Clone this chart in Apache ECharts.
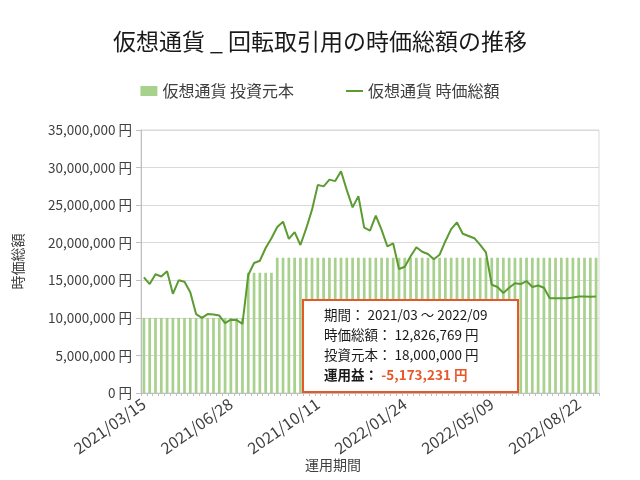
<!DOCTYPE html>
<html>
<head>
<meta charset="utf-8">
<script src="https://cdn.jsdelivr.net/npm/echarts@6/dist/echarts.min.js"></script>
<style>
html,body{margin:0;padding:0;background:#fff;}
#c{width:640px;height:480px;}
</style>
</head>
<body>
<div id="c"></div>
<script>
// Weekly categories
const categories = [
 '2021/03/15','2021/03/22','2021/03/29','2021/04/05','2021/04/12','2021/04/19','2021/04/26','2021/05/03','2021/05/10','2021/05/17',
 '2021/05/24','2021/05/31','2021/06/07','2021/06/14','2021/06/21','2021/06/28','2021/07/05','2021/07/12','2021/07/19','2021/07/26',
 '2021/08/02','2021/08/09','2021/08/16','2021/08/23','2021/08/30','2021/09/06','2021/09/13','2021/09/20','2021/09/27','2021/10/04',
 '2021/10/11','2021/10/18','2021/10/25','2021/11/01','2021/11/08','2021/11/15','2021/11/22','2021/11/29','2021/12/06','2021/12/13',
 '2021/12/20','2021/12/27','2022/01/03','2022/01/10','2022/01/17','2022/01/24','2022/01/31','2022/02/07','2022/02/14','2022/02/21',
 '2022/02/28','2022/03/07','2022/03/14','2022/03/21','2022/03/28','2022/04/04','2022/04/11','2022/04/18','2022/04/25','2022/05/02',
 '2022/05/09','2022/05/16','2022/05/23','2022/05/30','2022/06/06','2022/06/13','2022/06/20','2022/06/27','2022/07/04','2022/07/11',
 '2022/07/18','2022/07/25','2022/08/01','2022/08/08','2022/08/15','2022/08/22','2022/08/29','2022/09/05','2022/09/12'
];

// 投資元本 (principal), yen
const principal = [
 10000000,10000000,10000000,10000000,10000000,10000000,10000000,10000000,10000000,10000000,
 10000000,10000000,10000000,10000000,10000000,10000000,10000000,10000000,16000000,16000000,
 16000000,16000000,16000000,18000000,18000000,18000000,18000000,18000000,18000000,18000000,
 18000000,18000000,18000000,18000000,18000000,18000000,18000000,18000000,18000000,18000000,
 18000000,18000000,18000000,18000000,18000000,18000000,18000000,18000000,18000000,18000000,
 18000000,18000000,18000000,18000000,18000000,18000000,18000000,18000000,18000000,18000000,
 18000000,18000000,18000000,18000000,18000000,18000000,18000000,18000000,18000000,18000000,
 18000000,18000000,18000000,18000000,18000000,18000000,18000000,18000000,18000000
];

// 時価総額 (market value), yen
const marketValue = [
 15400000,14500000,15800000,15500000,16200000,13200000,15000000,14800000,13400000,10500000,
 10000000,10500000,10450000,10300000,9300000,9750000,9700000,9200000,15700000,17300000,
 17600000,19300000,20600000,22100000,22800000,20500000,21400000,19700000,21900000,24400000,
 27700000,27500000,28400000,28200000,29500000,27000000,24700000,26200000,22000000,21600000,
 23600000,21700000,19500000,19900000,16500000,16800000,18200000,19400000,18800000,18500000,
 17800000,18400000,20200000,21800000,22700000,21200000,20900000,20600000,19700000,18700000,
 14400000,14100000,13300000,14000000,14600000,14500000,14900000,14100000,14300000,14000000,
 12600000,12600000,12600000,12600000,12700000,12850000,12850000,12800000,12826769
];

const yTicks = {min: 0, max: 35000000, interval: 5000000};
const titleText = '仮想通貨 _ 回転取引用の時価総額の推移';
const barName = '仮想通貨 投資元本';
const lineName = '仮想通貨 時価総額';

function comma(n){
  const s = Math.abs(Math.round(n)).toString().replace(/\B(?=(\d{3})+(?!\d))/g, ',');
  return (n < 0 ? '-' : '') + s;
}

const lastVal = marketValue[marketValue.length - 1];
const lastPrin = principal[principal.length - 1];
const profit = lastVal - lastPrin;
const periodText = categories[0].slice(0,7) + ' ～ ' + categories[categories.length-1].slice(0,7);

const FONT = '"Noto Sans CJK JP", "Noto Sans", sans-serif';
const chart = echarts.init(document.getElementById('c'), null, {renderer: 'canvas'});

const lineIcon = 'path://M0,0h0.01v0.01h-0.01z M0,4.1h17v1.8h-17z M17,10h-0.01v-0.01h0.01z';

const boxTextStyle = {fontSize: 13.5, fontFamily: FONT, fill: '#1a1a1a', textVerticalAlign: 'middle'};

chart.setOption({
  animation: false,
  backgroundColor: '#ffffff',
  textStyle: {fontFamily: FONT},
  title: {
    text: titleText,
    left: 'center',
    top: 25,
    textStyle: {fontSize: 23, fontWeight: 'normal', color: '#1a1a1a', fontFamily: FONT}
  },
  legend: {
    top: 78,
    left: 'center',
    itemGap: 52,
    itemWidth: 17,
    itemHeight: 10,
    textStyle: {fontSize: 16, color: '#404040', fontFamily: FONT},
    data: [
      {name: barName, icon: 'rect'},
      {name: lineName, icon: lineIcon}
    ]
  },
  grid: {left: 141, right: 41, top: 130, bottom: 87, show: true, borderColor: '#d9d9d9', borderWidth: 1},
  xAxis: {
    type: 'category',
    data: categories,
    boundaryGap: true,
    axisLine: {lineStyle: {color: '#bfbfbf'}},
    axisTick: {show: true, interval: 0, length: 3, lineStyle: {color: '#bfbfbf'}},
    axisLabel: {interval: 14, rotate: 35, fontSize: 16, color: '#404040', margin: 9, fontFamily: FONT}
  },
  yAxis: {
    type: 'value',
    min: yTicks.min, max: yTicks.max, interval: yTicks.interval,
    name: '時価総額',
    nameLocation: 'middle',
    nameRotate: 90,
    nameGap: 116,
    nameTextStyle: {fontSize: 14, color: '#404040', fontFamily: FONT},
    axisLine: {show: true, lineStyle: {color: '#bfbfbf'}},
    axisTick: {show: true, length: 5, lineStyle: {color: '#bfbfbf'}},
    splitLine: {lineStyle: {color: '#d9d9d9'}},
    axisLabel: {fontSize: 13.5, color: '#404040', margin: 9, fontFamily: FONT,
      formatter: v => comma(v) + ' 円'}
  },
  series: [
    {
      name: barName, type: 'bar', data: principal, barWidth: '47%',
      itemStyle: {color: '#a9d18e'}, z: 2
    },
    {
      name: lineName, type: 'line', data: marketValue, symbol: 'none',
      lineStyle: {color: '#5b9b32', width: 2}, itemStyle: {color: '#5b9b32'}, z: 3
    }
  ],
  graphic: [
    {
      type: 'text', left: 305, top: 458, z: 100,
      style: {text: '運用期間', fontSize: 14, fontFamily: FONT, fill: '#404040'}
    },
    {type: 'rect', left: 302, top: 299, z: 100, shape: {x: 0, y: 0, width: 215, height: 92},
      style: {fill: '#ffffff', stroke: '#e8572a', lineWidth: 2}},
    {type: 'text', x: 324, y: 315, z: 101, style: Object.assign({text: '期間： ' + periodText}, boxTextStyle)},
    {type: 'text', x: 324, y: 335, z: 101, style: Object.assign({text: '時価総額： ' + comma(lastVal) + ' 円'}, boxTextStyle)},
    {type: 'text', x: 324, y: 355, z: 101, style: Object.assign({text: '投資元本： ' + comma(lastPrin) + ' 円'}, boxTextStyle)},
    {type: 'text', x: 324, y: 375, z: 101, style: {
      text: '{a|運用益：} {b|' + comma(profit) + ' 円}',
      textVerticalAlign: 'middle',
      rich: {
        a: {fontSize: 13.5, fontWeight: 'bold', fill: '#1a1a1a', fontFamily: FONT},
        b: {fontSize: 13.5, fontWeight: 'bold', fill: '#e8572a', fontFamily: FONT}
      }
    }}
  ]
});
</script>
</body>
</html>
